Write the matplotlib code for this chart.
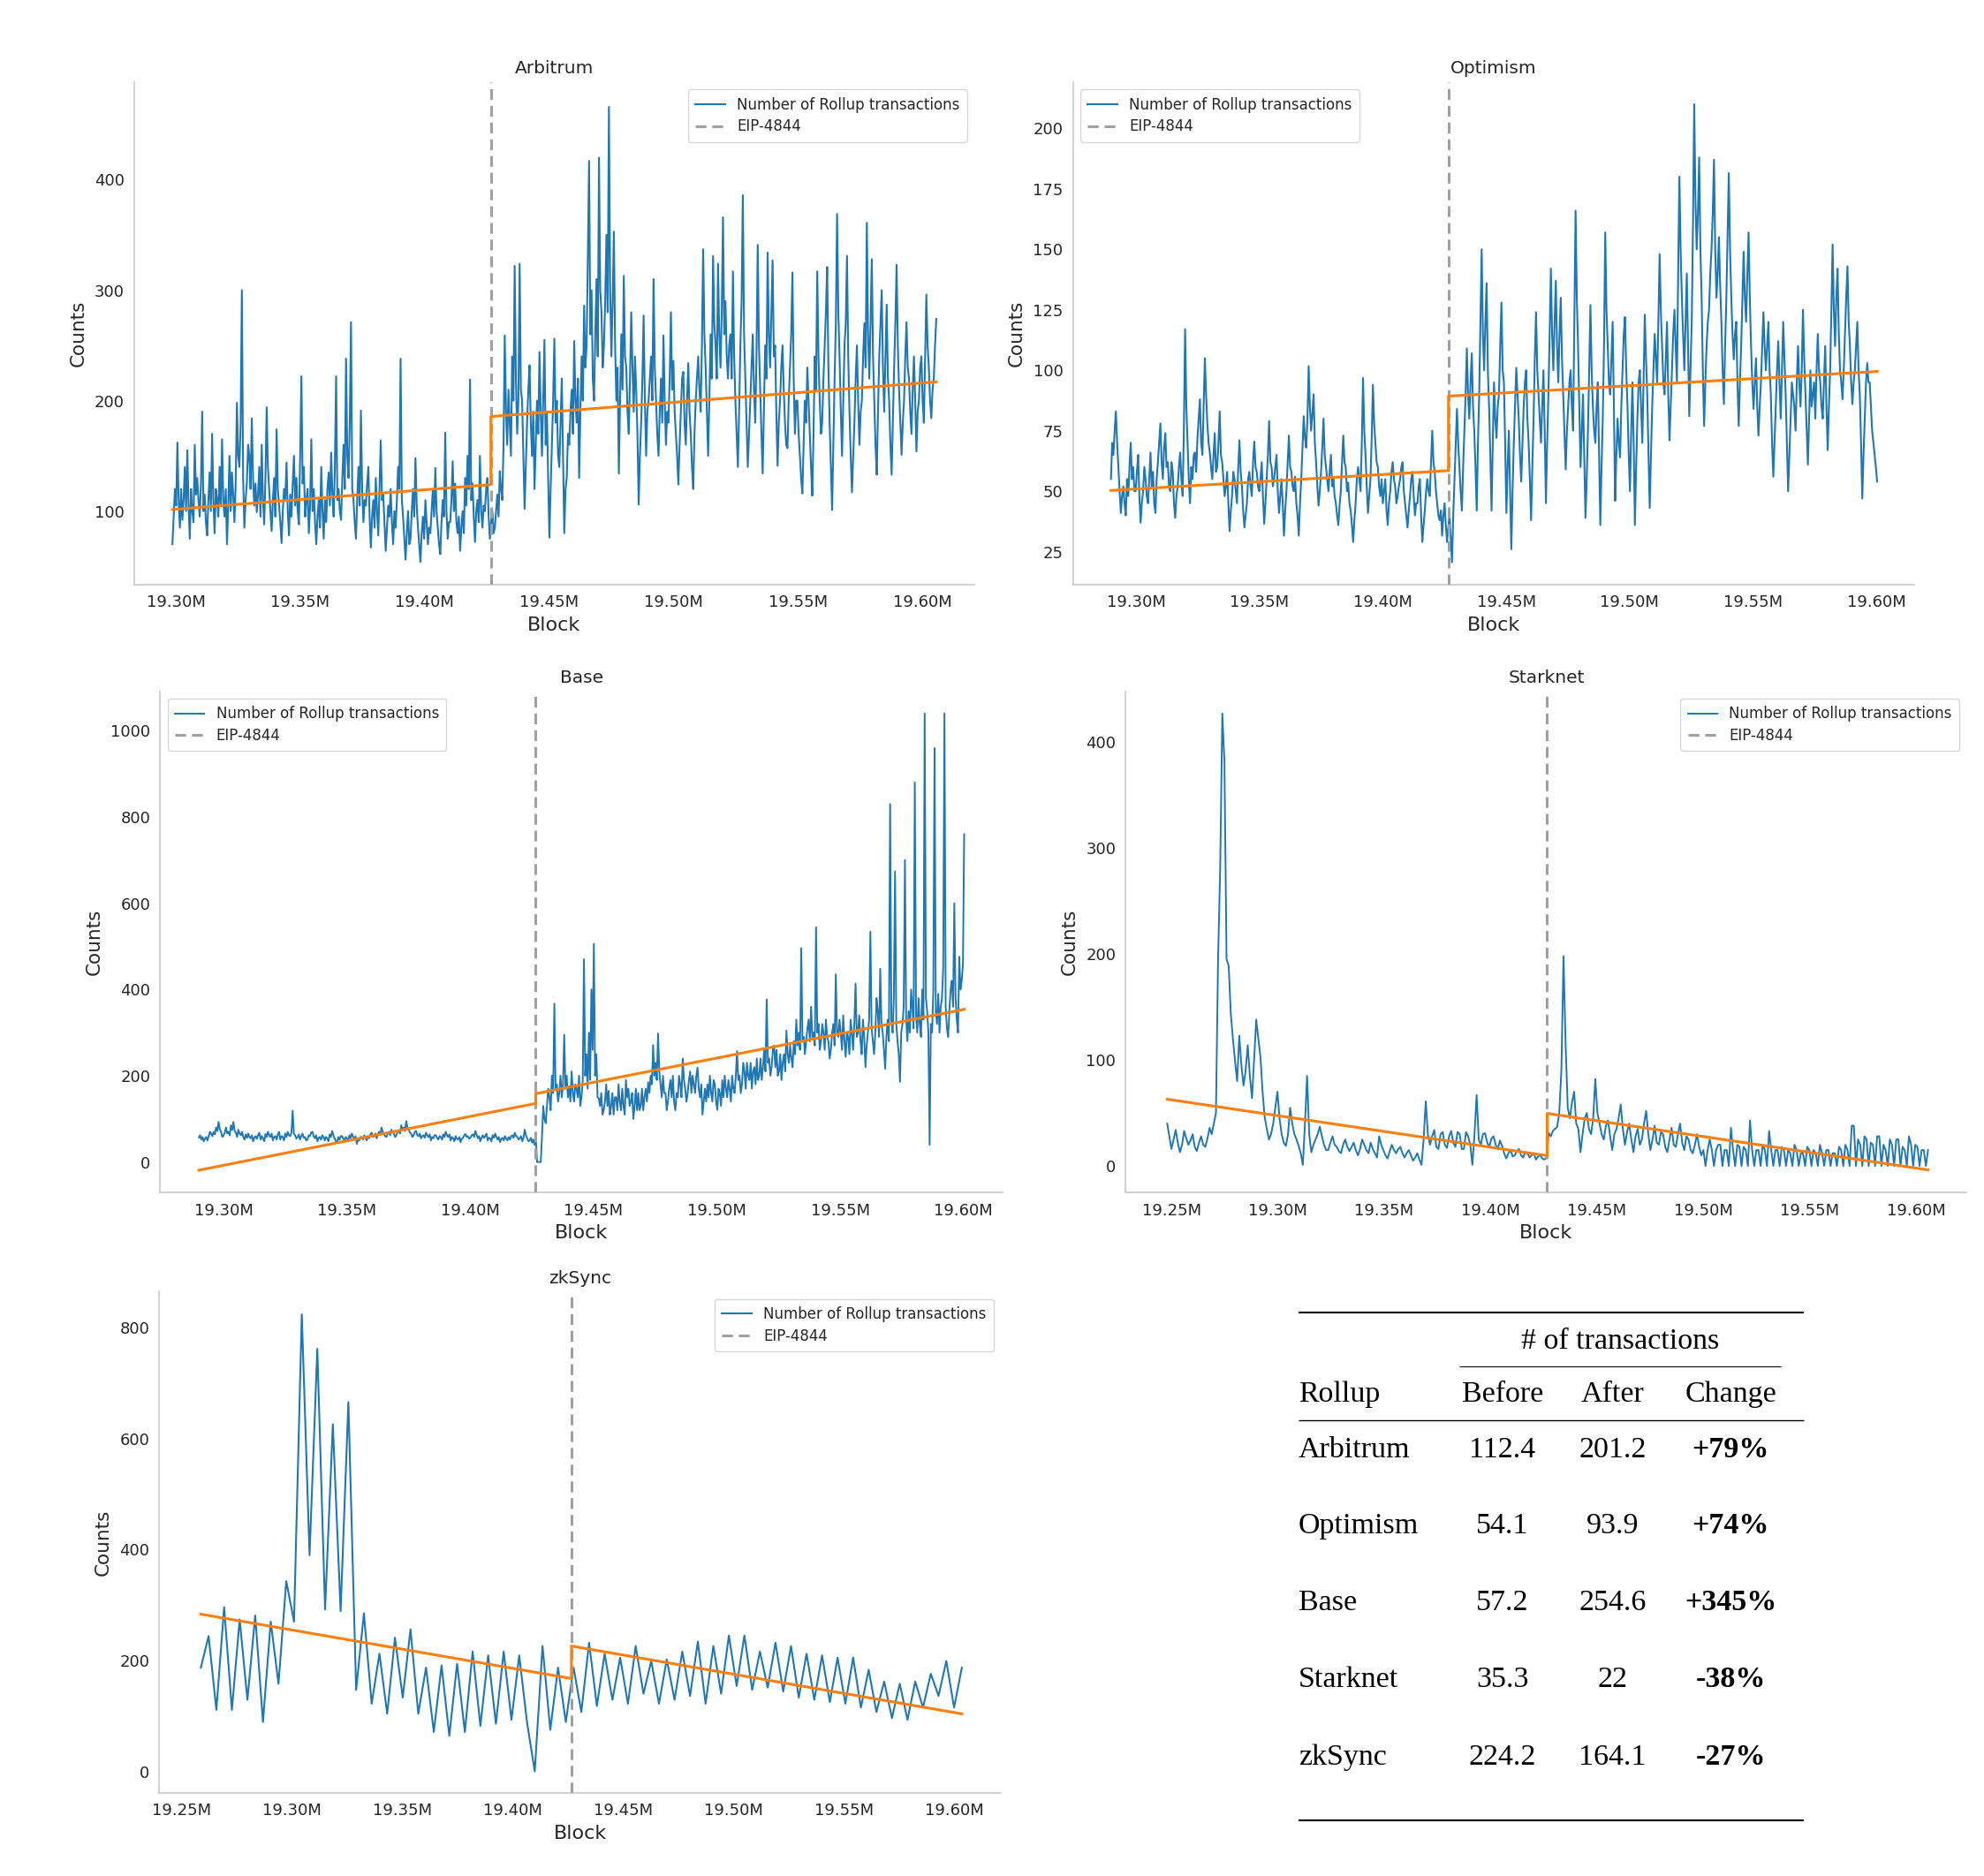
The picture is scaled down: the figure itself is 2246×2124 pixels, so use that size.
import numpy as np
import matplotlib
matplotlib.use("Agg")
import matplotlib.pyplot as plt
from matplotlib.lines import Line2D
from matplotlib.ticker import FuncFormatter, FixedLocator

# ---------------- data ----------------
EIP_BLOCK = 19426587

rollups = ["Arbitrum", "Optimism", "Base", "Starknet", "zkSync"]

arb_range = (19298600, 19605600)
arb_counts = [
    70, 95, 120, 105, 162, 110, 85, 120, 92, 110, 140, 100, 155, 105, 75, 120, 100, 90, 160, 115, 130, 110, 95, 125, 190, 100, 115, 90, 78, 110, 135, 100, 170, 110, 80, 120, 110, 95, 140, 105,
    165, 110, 95, 120, 70, 105, 150, 100, 135, 115, 90, 125, 198, 150, 140, 180, 300, 130, 85, 110, 125, 160, 150, 120, 184, 130, 105, 125, 99, 115, 140, 95, 160, 110, 88, 130, 194, 140, 120, 100,
    82, 110, 130, 95, 174, 120, 105, 90, 71, 100, 120, 110, 144, 100, 78, 115, 95, 125, 150, 105, 130, 100, 88, 150, 222, 125, 140, 95, 110, 120, 80, 105, 165, 100, 120, 90, 70, 95, 110, 85,
    140, 100, 75, 110, 90, 120, 135, 105, 153, 115, 95, 140, 222, 110, 120, 100, 92, 130, 160, 120, 238, 150, 130, 180, 271, 120, 110, 90, 75, 110, 140, 105, 191, 120, 90, 110, 105, 125, 140, 95,
    67, 95, 110, 85, 130, 100, 78, 120, 164, 110, 115, 90, 64, 85, 105, 95, 120, 90, 70, 100, 85, 110, 140, 120, 238, 110, 95, 75, 56, 80, 100, 70, 75, 100, 120, 95, 148, 105, 85, 70,
    54, 80, 95, 75, 110, 90, 70, 85, 80, 100, 120, 95, 139, 100, 85, 70, 61, 90, 110, 95, 171, 100, 75, 90, 90, 110, 145, 100, 125, 90, 80, 95, 64, 85, 100, 80, 130, 105, 150, 120,
    219, 110, 125, 95, 72, 100, 110, 90, 150, 100, 85, 105, 100, 120, 130, 95, 75, 90, 100, 80, 85, 100, 115, 95, 136, 120, 110, 160, 259, 190, 160, 210, 180, 150, 240, 200, 322, 220, 170, 200,
    324, 210, 200, 150, 102, 140, 180, 210, 232, 180, 150, 190, 120, 160, 200, 170, 244, 190, 150, 200, 255, 160, 190, 130, 76, 120, 160, 200, 256, 180, 200, 150, 140, 180, 220, 150, 80, 120, 130, 170,
    160, 190, 210, 170, 254, 200, 180, 220, 130, 190, 240, 200, 286, 230, 250, 330, 417, 260, 300, 220, 200, 260, 310, 240, 420, 300, 280, 230, 250, 290, 350, 280, 466, 300, 240, 290, 353, 250, 200, 230,
    134, 200, 260, 210, 313, 240, 230, 190, 170, 220, 280, 230, 190, 240, 210, 170, 106, 150, 180, 220, 277, 200, 150, 190, 200, 220, 240, 200, 310, 230, 200, 170, 150, 190, 220, 180, 259, 200, 160, 190,
    180, 220, 280, 210, 236, 190, 170, 150, 124, 160, 190, 220, 226, 180, 160, 200, 234, 190, 170, 140, 120, 170, 200, 220, 240, 210, 190, 250, 337, 260, 230, 190, 150, 200, 260, 220, 331, 270, 250, 220,
    324, 260, 230, 280, 366, 260, 290, 240, 220, 250, 260, 220, 317, 240, 200, 170, 140, 190, 250, 290, 386, 260, 220, 180, 140, 170, 200, 230, 260, 210, 180, 240, 341, 250, 210, 170, 134, 190, 250, 220,
    334, 260, 230, 280, 327, 240, 250, 190, 141, 180, 200, 230, 250, 210, 180, 160, 157, 200, 230, 260, 316, 220, 170, 200, 200, 170, 150, 130, 116, 160, 200, 180, 230, 200, 170, 140, 114, 170, 240, 210,
    317, 240, 200, 170, 180, 220, 250, 280, 321, 230, 180, 140, 101, 160, 220, 270, 369, 280, 240, 190, 150, 200, 250, 270, 331, 240, 190, 150, 117, 150, 180, 220, 250, 200, 160, 190, 200, 240, 270, 230,
    361, 260, 220, 270, 328, 240, 200, 160, 133, 190, 240, 270, 300, 230, 190, 240, 287, 220, 200, 160, 133, 180, 230, 270, 323, 250, 210, 180, 151, 180, 200, 240, 271, 230, 220, 190, 170, 210, 240, 200,
    154, 190, 200, 230, 240, 200, 180, 240, 296, 250, 230, 200, 184, 210, 220, 250, 274,
]
arb_trend = [101.5, 124.0, 185.6, 217.0]

opt_range = (19289800, 19600300)
opt_counts = [
    55, 70, 65, 75, 83, 70, 60, 50, 41, 48, 52, 45, 40, 55, 48, 60, 70, 55, 60, 50, 50, 58, 65, 48, 37, 45, 50, 60, 55, 48, 45, 55, 66, 52, 58, 45, 41, 55, 62, 70,
    78, 62, 55, 68, 74, 60, 62, 52, 50, 62, 58, 45, 39, 48, 52, 60, 66, 55, 48, 75, 117, 85, 70, 55, 45, 60, 55, 65, 66, 58, 72, 80, 88, 70, 65, 85, 105, 90, 78, 70,
    66, 60, 55, 65, 74, 58, 60, 70, 83, 65, 62, 55, 48, 52, 58, 45, 33.5, 42, 48, 58, 55, 50, 45, 60, 71, 58, 52, 42, 35, 40, 45, 55, 58, 52, 48, 62, 70.5, 60, 58, 52,
    50, 55, 62, 48, 36.5, 45, 55, 65, 79, 62, 60, 52, 55, 60, 65, 50, 41, 48, 55, 45, 31.6, 42, 50, 62, 73, 60, 58, 52, 50, 56, 45, 40, 31.6, 45, 55, 68, 81, 72, 68, 80,
    101.7, 85, 75, 82, 90, 70, 62, 52, 44, 50, 58, 68, 80, 65, 60, 55, 50, 58, 65, 52, 55, 48, 45, 40, 36, 44, 50, 62, 73, 62, 60, 50, 53.5, 45, 42, 36, 29, 38, 45, 55,
    60, 55, 50, 70, 96.8, 75, 65, 52, 41, 48, 55, 72, 94, 78, 70, 62, 60, 52, 48, 55, 45, 50, 55, 42, 36, 45, 50, 58, 62, 55, 52, 45, 48, 52, 55, 60, 62, 50, 45, 40,
    35, 42, 48, 55, 58, 48, 40, 45, 45, 52, 55, 40, 29, 36, 42, 50, 55, 50, 48, 62, 75, 62, 58, 50, 45, 40, 38, 42, 31.6, 40, 45, 36, 29, 35, 40, 30, 20.6, 40, 55, 70,
    84, 70, 60, 50, 42, 60, 75, 90, 109, 90, 80, 95, 107, 85, 75, 60, 42, 70, 90, 120, 150, 115, 100, 120, 136, 100, 85, 65, 42, 70, 95, 80, 72, 85, 90, 110, 128, 100, 95, 70,
    41, 60, 75, 50, 26, 50, 70, 85, 101, 90, 80, 65, 54, 70, 85, 95, 100, 80, 70, 55, 38, 60, 80, 105, 124, 100, 90, 80, 70, 85, 100, 75, 45, 70, 90, 115, 142, 115, 100, 120,
    137, 110, 95, 115, 130, 105, 90, 75, 59, 75, 85, 95, 100, 85, 75, 120, 166, 130, 110, 85, 60, 75, 90, 65, 39, 55, 75, 100, 127, 100, 85, 75, 70, 85, 95, 65, 36, 60, 80, 110,
    157, 125, 110, 95, 90, 105, 120, 85, 46, 65, 80, 70, 64, 85, 100, 115, 122, 100, 85, 65, 50, 75, 95, 70, 36, 60, 80, 95, 100, 85, 70, 95, 123, 105, 90, 65, 43, 65, 85, 100,
    115, 105, 95, 120, 148, 125, 110, 95, 90, 105, 120, 90, 71, 85, 100, 115, 125, 110, 95, 140, 180, 150, 130, 115, 100, 120, 140, 110, 81, 100, 120, 160, 210, 170, 150, 165, 188, 150, 130, 100,
    77, 95, 110, 120, 125, 140, 150, 165, 187, 150, 130, 140, 155, 135, 120, 100, 86, 110, 130, 155, 181.5, 150, 130, 115, 104.5, 115, 120, 95, 77, 95, 110, 130, 149, 130, 120, 140, 157, 130, 110, 95,
    84, 95, 105, 85, 73, 85, 95, 110, 124, 110, 100, 110, 120, 100, 90, 70, 56, 70, 85, 100, 112, 95, 80, 100, 120, 105, 90, 70, 50, 65, 80, 95, 90, 85, 75, 95, 110, 95, 85, 100,
    125, 105, 90, 75, 61, 80, 100, 85, 90, 95, 80, 100, 115, 100, 95, 85, 80, 95, 110, 85, 67, 85, 100, 125, 152, 125, 110, 130, 142, 115, 100, 95, 88, 100, 115, 130, 143, 120, 110, 95,
    86, 95, 100, 110, 120, 100, 90, 70, 47, 65, 80, 95, 103, 95, 95, 85, 75, 70, 65, 60, 54,
]
opt_trend = [50.3, 58.5, 89.3, 99.5]

base_range = (19290000, 19600300)
base_counts = [
    57, 62, 52, 58, 48, 54, 58, 50, 60, 70, 66, 60, 70, 64, 80, 72, 93, 76, 70, 58, 62, 68, 80, 66, 70, 62, 85, 74, 93, 72, 68, 58, 75, 66, 62, 70, 58, 52, 64, 56,
    66, 58, 55, 62, 48, 56, 60, 54, 62, 68, 52, 60, 55, 48, 65, 58, 70, 62, 58, 66, 50, 58, 60, 52, 64, 70, 52, 60, 58, 50, 66, 58, 70, 62, 60, 68, 119, 66, 62, 54,
    58, 64, 52, 60, 66, 56, 58, 50, 52, 62, 60, 68, 70, 60, 55, 62, 48, 56, 58, 52, 62, 58, 50, 58, 55, 48, 64, 58, 72, 62, 55, 48, 46, 58, 52, 60, 60, 54, 50, 58,
    55, 50, 62, 56, 66, 58, 52, 60, 42, 52, 50, 58, 58, 52, 62, 56, 50, 60, 55, 64, 68, 58, 60, 66, 55, 62, 70, 64, 80, 70, 65, 60, 58, 66, 68, 62, 75, 70, 66, 58,
    62, 70, 72, 66, 85, 74, 80, 72, 95, 80, 75, 68, 66, 58, 62, 70, 72, 62, 60, 66, 55, 60, 62, 56, 68, 62, 58, 64, 50, 58, 55, 62, 62, 56, 52, 60, 58, 52, 64, 58,
    70, 62, 58, 64, 50, 58, 55, 48, 60, 54, 52, 58, 46, 54, 56, 62, 65, 58, 60, 54, 56, 62, 64, 58, 72, 64, 55, 60, 48, 56, 62, 56, 60, 66, 50, 56, 55, 48, 62, 56,
    66, 58, 52, 58, 46, 54, 56, 50, 60, 54, 50, 58, 52, 60, 62, 56, 68, 60, 58, 52, 55, 60, 48, 56, 75, 62, 55, 48, 50, 56, 45, 52, 40, 55, 0, 0,
    0, 0, 60, 130, 100, 90, 130, 170, 150, 120, 200, 160, 367, 170, 180, 140, 160, 200, 150, 180, 295, 170, 200, 150, 175, 140, 210, 160, 140, 180, 170, 150, 200, 130, 150, 190, 470, 200, 250, 170,
    300, 190, 400, 260, 506, 200, 250, 150, 148, 130, 160, 110, 120, 140, 180, 130, 165, 110, 130, 160, 110, 150, 150, 120, 180, 140, 120, 170, 130, 110, 190, 150, 170, 130, 140, 160, 100, 130, 170, 120,
    160, 120, 130, 170, 120, 150, 170, 140, 185, 160, 200, 180, 271, 200, 230, 190, 298, 210, 180, 150, 200, 160, 160, 120, 140, 170, 190, 150, 200, 140, 120, 160, 150, 200, 180, 150, 240, 190, 170, 140,
    160, 190, 210, 160, 200, 180, 160, 200, 219, 170, 150, 180, 110, 140, 170, 140, 180, 150, 200, 160, 140, 190, 180, 140, 121, 170, 160, 130, 190, 150, 200, 170, 150, 190, 170, 140, 200, 170, 160, 200,
    257, 190, 200, 160, 180, 230, 210, 170, 230, 200, 190, 230, 170, 210, 220, 180, 240, 190, 200, 240, 190, 220, 260, 210, 377, 230, 240, 200, 220, 260, 270, 220, 260, 200, 210, 250, 190, 230, 250, 210,
    305, 250, 230, 270, 240, 220, 280, 250, 330, 270, 300, 260, 496, 280, 290, 250, 280, 310, 330, 280, 360, 290, 300, 270, 544, 300, 320, 260, 280, 320, 300, 260, 330, 290, 280, 240, 260, 300, 320, 270,
    435, 300, 290, 330, 300, 260, 340, 280, 244, 300, 290, 250, 330, 300, 260, 320, 414, 290, 300, 340, 280, 250, 330, 290, 220, 270, 300, 330, 534, 310, 280, 250, 300, 380, 350, 290, 448, 320, 300, 260,
    216, 290, 330, 280, 830, 330, 300, 380, 674, 320, 280, 250, 186, 300, 320, 360, 700, 330, 280, 350, 300, 400, 360, 310, 880, 340, 300, 380, 320, 290, 400, 330, 1040, 380, 350, 300, 40, 320, 300, 400,
    960, 350, 320, 390, 300, 360, 380, 450, 1040, 360, 310, 290, 350, 400, 420, 360, 600, 380, 330, 300, 476, 400, 420, 460, 760,
]
base_trend = [-19.0, 135.8, 158.4, 354.0]

stark_range = (19248000, 19605600)
stark_counts = [
    40, 28, 16, 25, 34, 22, 13, 20, 33, 26, 20, 24, 30, 18, 14, 22, 28, 20, 18, 26,
    36, 30, 40, 50, 195, 281, 427, 382, 195, 189, 144, 120, 99, 80, 123, 95, 76, 90, 114, 85,
    64, 100, 138, 120, 103, 70, 46, 35, 25, 30, 40, 55, 70, 45, 30, 22, 19, 30, 55, 40,
    30, 25, 19, 12, 1, 40, 85, 30, 13, 20, 25, 30, 37, 28, 20, 15, 15, 22, 28, 20,
    18, 14, 12, 20, 25, 18, 14, 18, 22, 15, 10, 16, 25, 20, 15, 12, 22, 16, 12, 8,
    28, 20, 15, 10, 7, 14, 20, 15, 12, 16, 18, 12, 8, 12, 15, 10, 5, 8, 12, 6,
    1, 25, 61, 30, 20, 28, 34, 18, 16, 30, 32, 20, 17, 28, 33, 22, 18, 32, 30, 16,
    16, 32, 28, 20, 1, 30, 67, 25, 20, 30, 31, 22, 18, 26, 28, 20, 16, 24, 19, 12,
    7, 12, 15, 9, 10, 14, 16, 10, 8, 13, 12, 8, 10, 12, 6, 9, 10, 7, 6, 8,
    31, 28, 33, 35, 37, 50, 91, 198, 114, 55, 45, 60, 70, 40, 35, 13, 30, 45, 50, 35,
    30, 45, 82, 50, 40, 30, 25, 38, 43, 28, 15, 30, 35, 45, 58, 35, 20, 32, 40, 25,
    13, 28, 35, 20, 25, 40, 52, 30, 15, 25, 38, 22, 20, 32, 30, 18, 13, 25, 36, 20,
    18, 30, 40, 22, 15, 28, 25, 15, 12, 20, 30, 18, 10, 15, 0, 15, 25, 15, 0, 15,
    20, 20, 0, 15, 15, 0, 36, 15, 0, 20, 18, 0, 18, 15, 0, 43, 15, 0, 15, 15,
    0, 20, 15, 0, 33, 15, 0, 15, 15, 0, 18, 15, 0, 15, 12, 0, 20, 15, 0, 12,
    12, 0, 18, 15, 0, 15, 12, 0, 20, 12, 0, 15, 15, 0, 12, 12, 0, 18, 15, 0,
    20, 15, 0, 38, 38, 0, 25, 20, 0, 28, 25, 0, 22, 20, 0, 28, 28, 0, 20, 15,
    0, 25, 20, 0, 25, 25, 0, 18, 15, 0, 28, 20, 0, 20, 18, 0, 15, 15, 0, 15,
]
stark_trend = [63.0, 9.7, 49.6, -3.7]

zk_range = (19258800, 19603400)
zk_counts = [
    187, 244, 111, 296, 111, 274, 129, 281, 89, 270,
    158, 343, 270, 824, 390, 762, 292, 626, 289, 666,
    147, 285, 122, 212, 104, 241, 133, 256, 104, 187,
    71, 191, 64, 194, 71, 216, 82, 209, 86, 216,
    93, 209, 89, 0, 226, 75, 187, 89, 187, 107,
    232, 118, 212, 129, 205, 122, 226, 140, 199, 122,
    202, 129, 216, 136, 234, 122, 226, 140, 245, 154,
    245, 147, 216, 151, 232, 144, 226, 133, 212, 129,
    209, 125, 205, 122, 205, 115, 183, 107, 162, 96,
    158, 93, 162, 115, 176, 136, 199, 115, 187,
]
zk_trend = [283.5, 167.4, 226.0, 103.7]

x_ticks_a = [19.30e6, 19.35e6, 19.40e6, 19.45e6, 19.50e6, 19.55e6, 19.60e6]
x_ticks_b = [19.25e6] + x_ticks_a

# table
tbl_before = ["112.4", "54.1", "57.2", "35.3", "224.2"]
tbl_after = ["201.2", "93.9", "254.6", "22", "164.1"]
tbl_change = ["+79%", "+74%", "+345%", "-38%", "-27%"]

# ---------------- style ----------------
plt.rcParams["font.family"] = ["DejaVu Sans"]
TXT = "#262626"
SPINE = "#cccccc"
BLUE = "#1f77b4"
ORANGE = "#ff7f0e"
GRAY = "#a0a0a0"

fig = plt.figure(figsize=(22.46, 21.24), dpi=100)

panels = [
    ("Arbitrum", arb_counts, arb_range, arb_trend,
     [0.0676, 0.6884, 0.4235, 0.2678], (19.2832e6, 19.6209e6), (33.5, 488.3),
     [100, 200, 300, 400], x_ticks_a, "upper right", 1.5),
    ("Optimism", opt_counts, opt_range, opt_trend,
     [0.5408, 0.6884, 0.4241, 0.2678], (19.2744e6, 19.6154e6), (11.4, 219.1),
     [25, 50, 75, 100, 125, 150, 175, 200], x_ticks_a, "upper left", 1.5),
    ("Base", base_counts, base_range, base_trend,
     [0.0807, 0.3642, 0.4248, 0.2673], (19.2743e6, 19.6160e6), (-71.3, 1091.3),
     [0, 200, 400, 600, 800, 1000], x_ticks_a, "upper left", 1.4),
    ("Starknet", stark_counts, stark_range, stark_trend,
     [0.5674, 0.3642, 0.4239, 0.2673], (19.2285e6, 19.6238e6), (-25.3, 448.0),
     [0, 100, 200, 300, 400], x_ticks_b, "upper right", 1.4),
    ("zkSync", zk_counts, zk_range, zk_trend,
     [0.0803, 0.0442, 0.4242, 0.2673], (19.2400e6, 19.6211e6), (-39.2, 865.2),
     [0, 200, 400, 600, 800], x_ticks_b, "upper right", 1.5),
]

fmt = FuncFormatter(lambda v, p: f"{v/1e6:.2f}M")

for name, counts, rng, trend, rect, xl, yl, yt, xt, loc, lw in panels:
    ax = fig.add_axes(rect)
    x = np.linspace(rng[0], rng[1], len(counts))
    ax.plot(x, counts, color=BLUE, lw=lw, label="Number of Rollup transactions", zorder=2)
    ax.axvline(EIP_BLOCK, color=GRAY, lw=2.2, ls=(0, (4, 2.2)), label="EIP-4844", zorder=3)
    ax.plot([rng[0], EIP_BLOCK, EIP_BLOCK, rng[1]], trend, color=ORANGE, lw=2.2, zorder=4)
    ax.set_xlim(*xl)
    ax.set_ylim(*yl)
    ax.xaxis.set_major_locator(FixedLocator(xt))
    ax.xaxis.set_major_formatter(fmt)
    ax.yaxis.set_major_locator(FixedLocator(yt))
    for s in ["top", "right"]:
        ax.spines[s].set_visible(False)
    for s in ["left", "bottom"]:
        ax.spines[s].set_color(SPINE)
        ax.spines[s].set_linewidth(1.25)
    ax.tick_params(length=0, pad=8, labelsize=13, colors=TXT)
    ax.set_title(name, fontsize=14.5, color=TXT, pad=7)
    ax.set_xlabel("Block", fontsize=16, color=TXT, labelpad=5)
    ax.set_ylabel("Counts", fontsize=15.5, color=TXT, labelpad=6)
    ax.set_facecolor("white")
    leg = ax.legend(loc=loc, fontsize=12, frameon=True, fancybox=True,
                    handlelength=2.0, borderpad=0.5, labelspacing=0.4)
    leg.get_frame().set_edgecolor(SPINE)
    leg.get_frame().set_linewidth(1.0)
    for t in leg.get_texts():
        t.set_color(TXT)

# ---------------- table ----------------
serif = ["Liberation Serif", "DejaVu Serif"]
tfs = 24.5

def hline(x0, x1, y, lw):
    fig.add_artist(Line2D([x0, x1], [y, y], transform=fig.transFigure,
                          color="black", lw=lw, solid_capstyle="butt"))

hline(0.6545, 0.9093, 0.30042, 1.5)
hline(0.7357, 0.8978, 0.27166, 0.8)
hline(0.6545, 0.9093, 0.24294, 1.0)
hline(0.6545, 0.9093, 0.02985, 1.5)

col_before = 0.7572
col_after = 0.8128
col_change = 0.8724
fig.text(0.8166, 0.28121, "# of transactions", family=serif, fontsize=tfs,
         ha="center", va="baseline")
fig.text(0.6545, 0.25296, "Rollup", family=serif, fontsize=tfs, ha="left", va="baseline")
fig.text(col_before, 0.25296, "Before", family=serif, fontsize=tfs, ha="center", va="baseline")
fig.text(col_after, 0.25296, "After", family=serif, fontsize=tfs, ha="center", va="baseline")
fig.text(col_change, 0.25296, "Change", family=serif, fontsize=tfs, ha="center", va="baseline")

row_y = [0.22316, 0.18282, 0.14148, 0.10075, 0.05941]
for i, name in enumerate(rollups):
    y = row_y[i]
    fig.text(0.6545, y, name, family=serif, fontsize=tfs, ha="left", va="baseline")
    fig.text(col_before, y, tbl_before[i], family=serif, fontsize=tfs, ha="center", va="baseline")
    fig.text(col_after, y, tbl_after[i], family=serif, fontsize=tfs, ha="center", va="baseline")
    fig.text(col_change, y, tbl_change[i], family=serif, fontsize=tfs, ha="center",
             va="baseline", fontweight="bold")

fig.savefig("out.png", dpi=100, facecolor="white")
